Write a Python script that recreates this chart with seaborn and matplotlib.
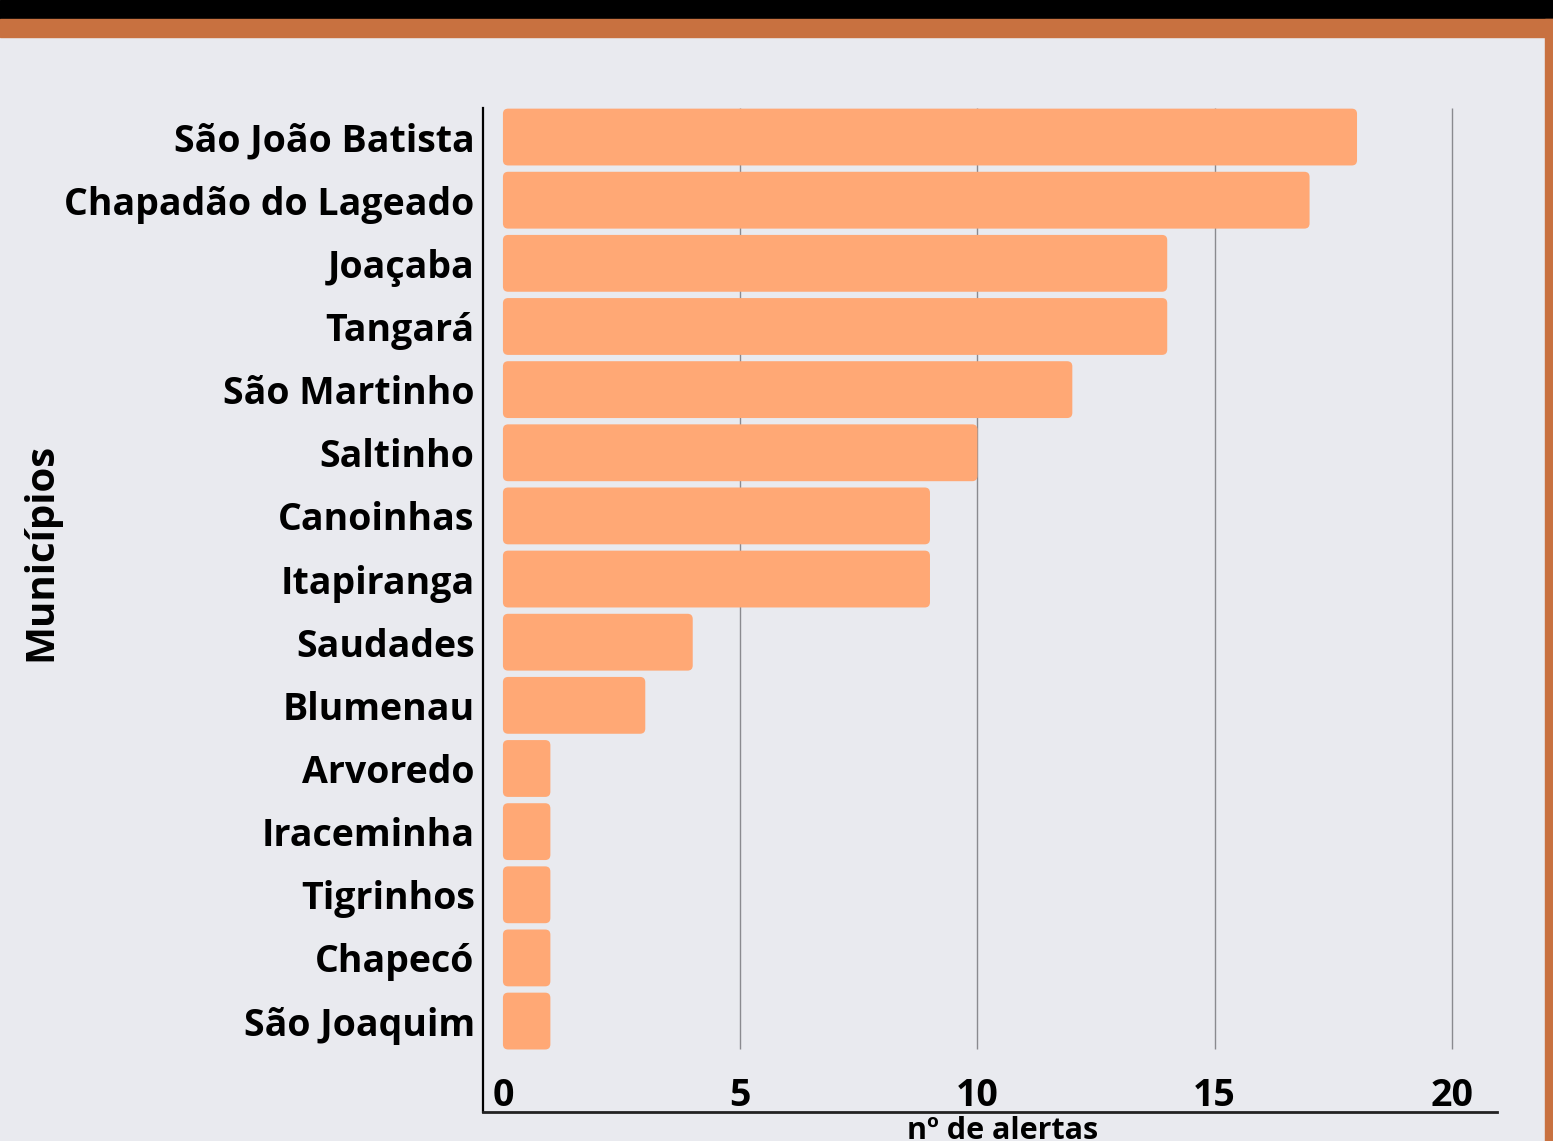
import pandas as pd
import matplotlib.pyplot as plt
import seaborn as sns
from matplotlib.patches import FancyBboxPatch

# data
municipios = ['São João Batista', 'Chapadão do Lageado', 'Joaçaba', 'Tangará',
              'São Martinho', 'Saltinho', 'Canoinhas', 'Itapiranga', 'Saudades',
              'Blumenau', 'Arvoredo', 'Iraceminha', 'Tigrinhos', 'Chapecó',
              'São Joaquim']
alertas = [18, 17, 14, 14, 12, 10, 9, 9, 4, 3, 1, 1, 1, 1, 1]
xticks = [0, 5, 10, 15, 20]

df = pd.DataFrame({'municipio': municipios, 'alertas': alertas})

bg = '#E9EAEF'
bar_color = '#FFA875'
frame = '#C87140'

sns.set_style('white')
plt.rcParams['font.family'] = ['Open Sans', 'DejaVu Sans']
plt.rcParams['text.color'] = 'black'
plt.rcParams['xtick.color'] = 'black'
plt.rcParams['ytick.color'] = 'black'
plt.rcParams['axes.labelcolor'] = 'black'

W, H = 1553, 1141
fig = plt.figure(figsize=(W / 100, H / 100), dpi=100)
fig.patch.set_facecolor(bg)

# black strip + orange frame at the top and right
fig.add_artist(plt.Rectangle((0, 1 - 19 / H), 1, 19 / H, transform=fig.transFigure,
                             color='black', zorder=0))
fig.add_artist(plt.Rectangle((0, 1 - 37 / H), 1, 18 / H, transform=fig.transFigure,
                             color=frame, zorder=0))
fig.add_artist(plt.Rectangle((1 - 8 / W, 0), 8 / W, 1 - 19 / H, transform=fig.transFigure,
                             color=frame, zorder=0))

ax = fig.add_axes([483 / W, 1 - 1112 / H, (1497 - 483) / W, (1112 - 108) / H])
ax.set_facecolor('none')

sns.barplot(data=df, x='alertas', y='municipio', color=bar_color, width=0.9,
            saturation=1, ax=ax, zorder=3)

# swap the plain bars for rounded ones
px_x = (1452 - 503) / 20
px_y = 63.1
for p in list(ax.patches):
    x, y = p.get_x(), p.get_y()
    w, h = p.get_width(), p.get_height()
    rb = FancyBboxPatch((x, y), w, h, boxstyle='round,pad=0,rounding_size=0.11',
                        mutation_aspect=px_x / px_y, facecolor=bar_color,
                        edgecolor='none', zorder=3)
    p.remove()
    ax.add_patch(rb)

n = len(municipios)
ax.set_xlim(-0.42, 20.95)
ax.set_ylim(n - 1 + 1.44, -0.46)

ax.vlines(xticks[1:], -0.46, n - 1 + 0.45, color='#8A8A8F', linewidth=1, zorder=1)

ax.set_xticks(xticks)
ax.set_xticklabels([str(t) for t in xticks], fontsize=27, fontweight='bold')
ax.tick_params(axis='x', length=0, pad=-25)
ax.tick_params(axis='y', length=0, pad=6, labelsize=27)
for lab in ax.get_yticklabels():
    lab.set_fontweight('bold')

for s in ['top', 'right']:
    ax.spines[s].set_visible(False)
ax.spines['left'].set_color('black')
ax.spines['bottom'].set_color('#222222')
ax.spines['left'].set_linewidth(1.6)
ax.spines['bottom'].set_linewidth(2)

ax.set_xlabel('nº de alertas', fontsize=22, fontweight='bold')
ax.xaxis.set_label_coords((1003 - 483) / (1497 - 483), -0.004)
ax.xaxis.label.set_va('top')
ax.set_ylabel('Municípios', fontsize=29, fontweight='bold')
ax.yaxis.set_label_coords(-(483 - 60) / (1497 - 483), (1112 - 552) / (1112 - 108))

fig.savefig('out.png', dpi=100, facecolor=bg)
